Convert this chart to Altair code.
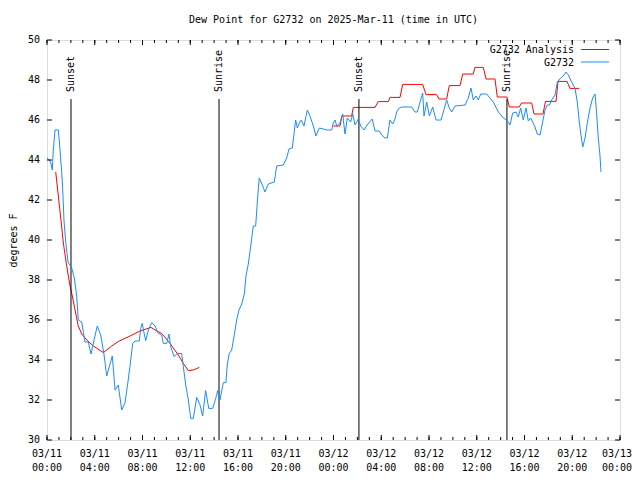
import altair as alt
import pandas as pd

TITLE = "Dew Point for G2732 on 2025-Mar-11 (time in UTC)"
Y_TITLE = "degrees F"
RED_NAME = "G2732 Analysis"
BLUE_NAME = "G2732"

# hours since 2025-03-11 00:00 UTC
blue_hours = [
    0.00, 0.21, 0.34, 0.44, 0.53, 0.67, 0.95, 1.09, 1.23, 1.32, 1.42, 1.57, 1.76, 2.07, 2.29,
    2.49, 2.62, 2.91, 3.18, 3.46, 3.69, 3.94, 4.21, 4.50, 4.77, 5.00, 5.28, 5.47, 5.70, 5.97,
    6.26, 6.53, 6.73, 6.95, 7.18, 7.37, 7.73, 7.85, 7.98, 8.13, 8.27, 8.49, 8.77, 9.05, 9.32,
    9.61, 9.74, 10.03, 10.22, 10.36, 10.64, 10.92, 11.28, 11.42, 11.62, 11.84, 12.04, 12.26,
    12.54, 12.82, 13.04, 13.29, 13.55, 13.88, 14.13, 14.30, 14.49, 14.77, 14.99, 15.10, 15.27,
    15.47, 15.69, 15.89, 16.08, 16.31, 16.53, 16.67, 16.86, 17.09, 17.28, 17.48, 17.62, 17.78,
    18.07, 18.26, 18.54, 19.04, 19.24, 19.79, 20.08, 20.27, 20.55, 20.69, 20.83, 20.97, 21.14,
    21.30, 21.53, 21.81, 22.03, 22.31, 22.53, 22.81, 23.15, 23.48, 23.85, 23.98, 24.13, 24.27,
    24.54, 24.77, 24.96, 25.16, 25.44, 25.61, 25.80, 26.08, 26.28, 26.56, 26.81, 27.25, 27.48,
    27.84, 28.04, 28.31, 28.51, 28.73, 28.96, 29.15, 29.29, 29.51, 29.71, 30.55, 30.83, 31.02,
    31.25, 31.47, 31.58, 31.81, 32.03, 32.31, 32.59, 33.01, 33.20, 33.48, 33.70, 33.90, 34.18,
    35.02, 35.29, 35.52, 35.71, 35.94, 36.13, 36.33, 36.83, 37.11, 37.39, 37.81, 38.22, 38.51,
    38.79, 39.01, 39.29, 39.48, 39.68, 39.90, 40.13, 40.32, 40.52, 40.69, 40.88, 41.07, 41.30,
    41.52, 41.72, 41.91, 42.08, 42.28, 42.56, 42.75, 43.03, 43.31, 43.48, 43.67, 43.95, 44.23,
    44.42, 44.59, 44.73, 44.88, 45.07, 45.26, 45.49, 45.71, 45.91, 46.05, 46.18, 46.32, 46.41,
]
blue_values = [
    44.1, 44.0, 43.8, 43.5, 44.5, 45.5, 45.5, 44.5, 43.4, 42.5, 41.0, 39.9, 38.9, 38.6, 38.1,
    37.2, 36.0, 35.9, 34.9, 34.9, 34.3, 35.0, 35.7, 35.25, 34.3, 33.2, 33.8, 34.2, 32.5, 32.75,
    31.5, 31.85, 32.67, 33.67, 34.83, 34.95, 34.95, 35.58, 35.83, 35.35, 34.97, 35.5, 35.87, 35.7, 35.33,
    35.25, 34.83, 34.83, 35.3, 34.67, 34.17, 34.33, 34.33, 33.67, 32.75, 32.0, 31.08, 31.08,
    32.13, 31.75, 31.2, 32.47, 31.58, 31.58, 32.08, 32.47, 32.0, 32.87, 32.87, 33.75, 34.33,
    34.5, 35.25, 36.0, 36.5, 36.8, 37.3, 38.2, 38.8, 39.8, 40.7, 40.7, 41.9, 43.1,
    42.7, 42.4, 42.8, 42.9, 43.7, 43.75, 44.1, 44.55, 44.6, 45.3, 46.0, 45.6, 45.85,
    46.0, 45.7, 46.5, 46.2, 45.7, 45.2, 45.6, 45.55, 45.5, 45.5, 45.85, 46.0, 45.7,
    45.85, 46.3, 45.3, 46.1, 45.9, 46.3, 45.75, 46.05, 45.7, 45.5, 45.75, 46.05, 45.45,
    45.45, 45.25, 45.1, 45.1, 46.0, 45.8, 46.05, 46.4, 46.6, 46.65, 46.65, 46.4, 46.4,
    46.9, 47.35, 46.2, 46.9, 46.2, 46.65, 46.0, 46.0, 46.4, 47.0, 46.6, 46.4, 46.7,
    46.75, 47.1, 47.6, 47.0, 47.2, 47.0, 47.3, 47.3, 47.1, 46.9, 46.4, 46.1, 46.0,
    45.75, 46.35, 46.4, 46.15, 46.6, 46.0, 46.6, 45.95, 46.1, 45.9, 45.65, 45.3, 45.25,
    45.9, 46.5, 46.75, 46.75, 47.0, 47.25, 47.9, 48.1, 48.25, 48.4, 48.25, 47.9, 47.6,
    46.9, 45.9, 45.25, 44.65, 45.1, 45.85, 46.6, 47.1, 47.3, 46.25, 45.1, 44.25, 43.4,
]

red_a_hours = [0.73, 0.95, 1.17, 1.37, 1.65, 1.93, 2.12, 2.35, 2.62, 2.91, 3.33, 3.88, 4.72,
               5.42, 5.97, 6.95, 7.79, 8.71, 9.05, 9.61, 10.30, 11.00, 11.42, 11.84, 12.26, 12.76]
red_a_values = [43.4, 42.2, 41.0, 39.85, 38.7, 37.7, 37.2, 36.5, 35.7, 35.3, 35.0, 34.7, 34.37,
                34.7, 34.92, 35.2, 35.45, 35.63, 35.5, 35.33, 34.83, 34.25, 33.83, 33.47, 33.5, 33.63]

red_b_hours = [23.98, 24.54, 24.71, 25.52, 25.66, 27.48, 27.75, 28.59, 28.73, 29.57,
               29.80, 31.47, 31.75, 32.64, 32.84, 33.48, 33.70, 34.60, 34.82, 35.71,
               35.85, 36.55, 36.78, 37.53, 37.72, 38.53, 38.73, 39.56, 39.76, 40.60,
               40.80, 41.55, 41.76, 42.64, 42.81, 43.56, 43.81, 44.59]
red_b_values = [45.7, 45.7, 46.2, 46.2, 46.63, 46.63, 46.92, 46.92, 47.13, 47.13,
                47.78, 47.78, 47.27, 47.27, 47.05, 47.05, 47.72, 47.72, 48.3, 48.3,
                48.63, 48.63, 48.05, 48.05, 47.15, 47.15, 46.65, 46.65, 46.85, 46.85,
                46.3, 46.3, 46.93, 46.93, 47.93, 47.93, 47.58, 47.58]

event_hours = [2.01, 14.41, 26.13, 38.53]
event_labels = ["Sunset", "Sunrise", "Sunset", "Sunrise"]

tick_hours = list(range(0, 49, 4))
tick_dates = ["03/11"] * 6 + ["03/12"] * 6 + ["03/13"]
tick_times = ["00:00", "04:00", "08:00", "12:00", "16:00", "20:00",
              "00:00", "04:00", "08:00", "12:00", "16:00", "20:00", "00:00"]
minor_hours = list(range(0, 49))
y_ticks = list(range(30, 51, 2))

FONT = "DejaVu Sans Mono"
RED = "#ff0000"
BLUE = "#1a8cff"
W, H = 573, 400

red_df = pd.DataFrame({
    "h": red_a_hours + red_b_hours,
    "v": red_a_values + red_b_values,
    "seg": ["a"] * len(red_a_hours) + ["b"] * len(red_b_hours),
})
blue_df = pd.DataFrame({"h": blue_hours, "v": blue_values})
ev_df = pd.DataFrame({"h": event_hours, "label": event_labels})
minor_df = pd.DataFrame({"h": minor_hours})
major_df = pd.DataFrame({"h": tick_hours})
ytick_df = pd.DataFrame({"v": y_ticks, "lbl": [str(v) for v in y_ticks]})
xlab_df = pd.DataFrame({"h": tick_hours,
                        "lbl": [d + "\n" + t for d, t in zip(tick_dates, tick_times)]})

xs = alt.Scale(domain=[0, 48], nice=False, zero=False)
ys = alt.Scale(domain=[30, 50], nice=False, zero=False)

x_axis = alt.Axis(values=tick_hours, labels=False, ticks=False, domain=False, grid=False, title=None)
y_axis = alt.Axis(values=y_ticks, labels=False, ticks=False, domain=False, grid=False,
                  title=Y_TITLE, titleFont=FONT, titleFontSize=10, titleFontWeight="normal",
                  titleColor="black", titleAngle=270, titleX=-29, titleY=H / 2,
                  titleAlign="center", titleBaseline="bottom")

base_x = alt.X("h:Q", scale=xs, axis=x_axis)
base_y = alt.Y("v:Q", scale=ys, axis=y_axis)

ev_rules = alt.Chart(ev_df).mark_rule(color="black", strokeWidth=1).encode(
    x=base_x, y=alt.datum(30), y2=alt.datum(47.05))
ev_text = alt.Chart(ev_df).mark_text(angle=270, align="left", baseline="middle", font=FONT,
                                     fontSize=10, color="black").encode(
    x=base_x, y=alt.datum(47.4), text="label:N")

red_line = alt.Chart(red_df).mark_line(color=RED, strokeWidth=1).encode(
    x=base_x, y=base_y, detail="seg:N")
blue_line = alt.Chart(blue_df).mark_line(color=BLUE, strokeWidth=1).encode(x=base_x, y=base_y)

def xticks(df, y0, y1):
    return alt.Chart(df).mark_rule(color="black", strokeWidth=1).encode(
        x=base_x, y=alt.value(y0), y2=alt.value(y1))

def yticks(x0, x1):
    return alt.Chart(ytick_df).mark_rule(color="black", strokeWidth=1).encode(
        y=base_y, x=alt.value(x0), x2=alt.value(x1))

tick_layers = [
    xticks(minor_df, H, H - 3), xticks(major_df, H, H - 5),
    xticks(minor_df, 0, 3), xticks(major_df, 0, 5),
    yticks(0, 5), yticks(W, W - 5),
]

# tick labels
ylab = alt.Chart(ytick_df).mark_text(align="right", baseline="middle", font=FONT, fontSize=10,
                                     color="black").encode(y=base_y, x=alt.value(-7), text="lbl:N")
n_last = len(tick_hours) - 1
xlab_main = alt.Chart(xlab_df.iloc[:n_last]).mark_text(
    align="center", baseline="top", lineBreak="\n", lineHeight=14, font=FONT, fontSize=10,
    color="black").encode(x=base_x, y=alt.value(H + 9), text="lbl:N")
xlab_last = alt.Chart(xlab_df.iloc[n_last:]).mark_text(
    align="center", baseline="top", lineBreak="\n", lineHeight=14, font=FONT, fontSize=10,
    color="black", dx=-3).encode(x=base_x, y=alt.value(H + 9), text="lbl:N")

def legend_entry(name, color, y):
    d = pd.DataFrame({"name": [name]})
    t = alt.Chart(d).mark_text(align="right", baseline="middle", font=FONT, fontSize=10,
                               color="black").encode(x=alt.value(527), y=alt.value(y), text="name:N")
    r = alt.Chart(d).mark_rule(color=color, strokeWidth=1).encode(
        x=alt.value(534), x2=alt.value(562), y=alt.value(y - 0.5))
    return [t, r]

legend_layers = legend_entry(RED_NAME, RED, 10) + legend_entry(BLUE_NAME, BLUE, 22.5)

chart = alt.layer(red_line, ev_rules, ev_text, blue_line, *tick_layers, ylab, xlab_main,
                  xlab_last, *legend_layers).properties(
    width=W, height=H,
    title=alt.TitleParams(TITLE, font=FONT, fontSize=10, fontWeight="normal", color="black",
                          anchor="middle", offset=2, baseline="alphabetic"),
    autosize=alt.AutoSizeParams(type="none"),
    padding={"left": 39, "top": 32, "right": 12, "bottom": 32},
).configure_view(stroke="black", strokeWidth=1).configure(background="white")

chart.save("out.html", embed_options={"renderer": "svg", "actions": False})
